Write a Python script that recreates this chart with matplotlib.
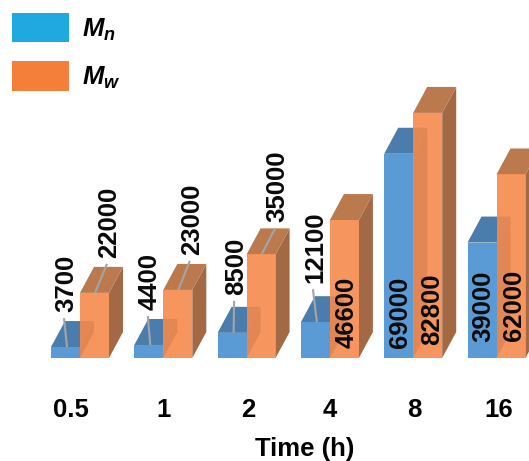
import matplotlib
matplotlib.use("Agg")
import matplotlib.pyplot as plt
from matplotlib.patches import Polygon, Patch
from matplotlib.transforms import ScaledTranslation

plt.rcParams['font.family'] = ['Liberation Sans', 'DejaVu Sans']
plt.rcParams['font.weight'] = 'bold'
plt.rcParams['mathtext.fontset'] = 'custom'
plt.rcParams['mathtext.bfit'] = 'Liberation Sans:italic:bold'
plt.rcParams['mathtext.rm'] = 'Liberation Sans:bold'

# data
times = ['0.5', '1', '2', '4', '8', '16']
mn = [3700, 4400, 8500, 12100, 69000, 39000]
mw = [22000, 23000, 35000, 46600, 82800, 62000]

# label offsets in pixels from the top of the bar front (dx, dy)
mn_offsets = [(0.5, 35), (1, 35), (4, 38), (-0.5, 39), (1, -194), (1, -99)]
mw_offsets = [(14.5, 35), (14, 35), (16, 32), (2.5, -128), (4, -232), (3, -167)]
# horizontal shift of tick labels, pixels
tick_shift = [-9, 0, 2, 0, 1, 2]

# pixel scale of the picture
group_px = 83.3
value_px = 0.00296
PX_X = 1 / group_px
PX_Y = 1 / value_px
W, H = 529, 461
base_y = 358
first_x = 80

bar_w = 29 * PX_X
depth_x = 14 * PX_X
depth_y = 26 * PX_Y

fig = plt.figure(figsize=(W / 100, H / 100), dpi=100)
ax = fig.add_axes([0, (H - base_y) / H, 1, base_y / H])
ax.set_xlim(-first_x * PX_X, (W - first_x) * PX_X)
ax.set_ylim(0, base_y * PX_Y)


def draw_bars(centers, values, front, top, side, alpha, z):
    for c, v in zip(centers, values):
        l, r = c - bar_w / 2, c + bar_w / 2
        ax.add_patch(Polygon([(r, 0), (r + depth_x, depth_y), (r + depth_x, v + depth_y), (r, v)],
                             facecolor=side, edgecolor='none', zorder=z))
        ax.add_patch(Polygon([(l, v), (l + depth_x, v + depth_y), (r + depth_x, v + depth_y), (r, v)],
                             facecolor=top, edgecolor='none', zorder=z))
    ax.bar(centers, values, width=bar_w, color=front, alpha=alpha, zorder=z + 0.5)


def draw_labels(centers, values, offsets, start_dx):
    for c, v, (dx, dy) in zip(centers, values, offsets):
        lx = c + dx * PX_X
        ly = v + dy * PX_Y
        ax.text(lx, ly, str(v), rotation=90, ha='center', va='bottom', fontsize=18.5,
                fontweight='bold', color='#0a0a0a', zorder=6)
        # leader line for labels sitting above the bar
        if dy > 0:
            ax.plot([c + start_dx * PX_X, lx - 2 * PX_X], [v, ly - 6 * PX_Y], color='#a5a5a5', lw=1.5,
                    zorder=5, solid_capstyle='butt')


x = list(range(len(times)))
x_mn = [i - bar_w / 2 for i in x]
x_mw = [i + bar_w / 2 for i in x]

draw_bars(x_mn, mn, '#5b9bd5', '#4a7dab', '#41709c', 1.0, 2)
draw_bars(x_mw, mw, '#f58a4b', '#bb7a4e', '#a36945', 0.9, 3)
draw_labels(x_mn, mn, mn_offsets, 1.5)
draw_labels(x_mw, mw, mw_offsets, 0.5)

# axis
for s in ax.spines.values():
    s.set_visible(False)
ax.set_yticks([])
ax.set_xticks(x)
ax.set_xticklabels(times, fontsize=18.5, fontweight='bold')
ax.tick_params(axis='x', length=0, pad=29)
for lab, shift in zip(ax.get_xticklabels(), tick_shift):
    lab.set_transform(lab.get_transform() + ScaledTranslation(shift / 100, 0, fig.dpi_scale_trans))
ax.set_xlabel('Time (h)', fontsize=18.5, fontweight='bold', va='center')
ax.xaxis.set_label_coords(305 / W, -(449 - base_y) / base_y)

# legend
handles = [Patch(facecolor='#1fa9e1', edgecolor='none', label=r'$\mathbfit{M}_{\mathbfit{n}}$'),
           Patch(facecolor='#f47f3a', edgecolor='none', label=r'$\mathbfit{M}_{\mathbfit{w}}$')]
ax.legend(handles=handles, loc='upper left', bbox_to_anchor=(12 / W, 1 - 13 / base_y),
          frameon=False, fontsize=18.5, borderpad=0, borderaxespad=0,
          handlelength=2.22, handleheight=1.38, labelspacing=0.72, handletextpad=0.5)

fig.savefig('out.png', dpi=100)
